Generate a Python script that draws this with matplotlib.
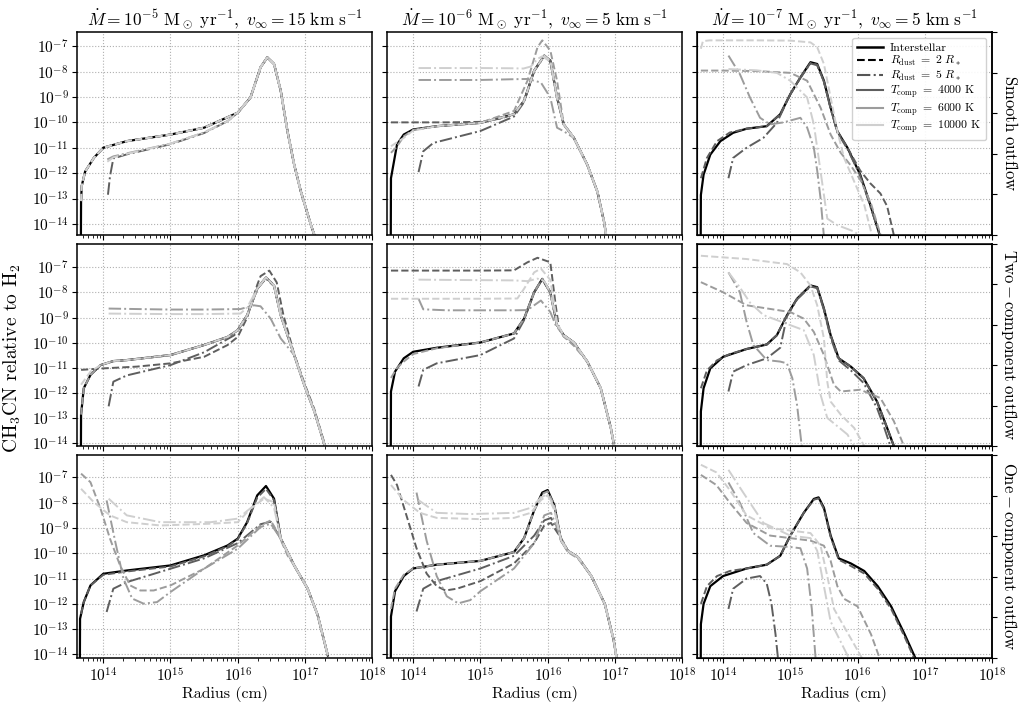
import numpy as np
import matplotlib
matplotlib.use('Agg')
import matplotlib.pyplot as plt
from matplotlib.lines import Line2D
from matplotlib.ticker import LogLocator, NullLocator, FixedLocator

plt.rcParams['font.family'] = 'serif'
plt.rcParams['font.serif'] = ['cmr10', 'DejaVu Serif']
plt.rcParams['mathtext.fontset'] = 'cm'
plt.rcParams['axes.formatter.use_mathtext'] = True

titles = [r'$\dot{M} = 10^{-5}\ \mathrm{M_\odot\ yr^{-1}},\ v_\infty = 15\ \mathrm{km\ s^{-1}}$',
          r'$\dot{M} = 10^{-6}\ \mathrm{M_\odot\ yr^{-1}},\ v_\infty = 5\ \mathrm{km\ s^{-1}}$',
          r'$\dot{M} = 10^{-7}\ \mathrm{M_\odot\ yr^{-1}},\ v_\infty = 5\ \mathrm{km\ s^{-1}}$']
row_labels = [r'$\mathrm{Smooth\ outflow}$',
              r'$\mathrm{Two-component\ outflow}$',
              r'$\mathrm{One-component\ outflow}$']
y_decades = [-14, -13, -12, -11, -10, -9, -8, -7]
x_decades = [14, 15, 16, 17, 18]

# each curve: (log10 radius [cm], log10 abundance)
# smooth outflow, Mdot = 1e-5
smooth_5 = {
    'ism': ([13.665, 13.67, 13.68, 13.73, 13.86, 14.0, 14.35, 15.0, 15.5, 16.0, 16.19, 16.34, 16.44, 16.54, 16.64, 16.74, 16.84, 16.94, 17.09, 17.14],
            [-16, -13.1, -12.5, -11.94, -11.40, -11.0, -10.74, -10.48, -10.21, -9.62, -9.02, -7.83, -7.44, -7.70, -8.76, -10.35, -11.67, -12.73, -14.05, -14.44]),
    't4_r2': ([13.67, 13.68, 13.73, 13.86, 14.0, 14.35, 15.0, 15.5, 16.0, 16.19, 16.34, 16.44, 16.54, 16.64, 16.74, 16.84, 16.94, 17.09, 17.14],
              [-13.1, -12.5, -11.94, -11.40, -11.0, -10.74, -10.48, -10.21, -9.62, -9.02, -7.83, -7.44, -7.70, -8.76, -10.35, -11.67, -12.73, -14.05, -14.44]),
    't4_r5': ([14.07, 14.10, 14.15, 14.35, 15.0, 15.5, 15.85, 16.0, 16.19, 16.34, 16.44, 16.54, 16.64, 16.74, 16.84, 16.94, 17.09, 17.15],
              [-12.85, -12.13, -11.42, -11.26, -10.86, -10.42, -9.95, -9.62, -9.02, -7.83, -7.44, -7.70, -8.76, -10.35, -11.67, -12.73, -14.05, -14.5]),
    't6_r2': ([13.67, 13.68, 13.73, 13.86, 14.0, 14.35, 15.0, 15.5, 16.0, 16.19, 16.34, 16.44, 16.54, 16.64, 16.74, 16.84, 16.94, 17.09, 17.14],
              [-13.1, -12.5, -11.94, -11.40, -11.0, -10.74, -10.48, -10.21, -9.62, -9.02, -7.83, -7.44, -7.70, -8.76, -10.35, -11.67, -12.73, -14.05, -14.44]),
    't6_r5': ([14.06, 14.15, 14.35, 15.0, 15.5, 15.85, 16.0, 16.19, 16.34, 16.44, 16.54, 16.64, 16.74, 16.84, 16.94, 17.09, 17.15],
              [-11.46, -11.34, -11.22, -10.84, -10.40, -9.95, -9.62, -9.02, -7.83, -7.44, -7.70, -8.76, -10.35, -11.67, -12.73, -14.05, -14.5]),
    't10_r2': ([13.67, 13.68, 13.73, 13.86, 14.0, 14.35, 15.0, 15.5, 16.0, 16.19, 16.34, 16.44, 16.54, 16.64, 16.74, 16.84, 16.94, 17.09, 17.14],
               [-13.1, -12.5, -11.94, -11.40, -11.0, -10.74, -10.48, -10.21, -9.62, -9.02, -7.83, -7.44, -7.70, -8.76, -10.35, -11.67, -12.73, -14.05, -14.44]),
    't10_r5': ([14.06, 14.15, 14.35, 15.0, 15.5, 15.85, 16.0, 16.19, 16.34, 16.44, 16.54, 16.64, 16.74, 16.84, 16.94, 17.09, 17.15],
               [-11.55, -11.38, -11.24, -10.84, -10.40, -9.95, -9.62, -9.02, -7.83, -7.44, -7.70, -8.76, -10.35, -11.67, -12.73, -14.05, -14.5]),
}

# smooth outflow, Mdot = 1e-6
smooth_6 = {
    'ism': ([13.665, 13.67, 13.76, 13.86, 14.0, 14.35, 15.0, 15.5, 15.65, 15.80, 15.95, 16.04, 16.14, 16.24, 16.39, 16.59, 16.74, 16.84, 16.87],
            [-16, -12.2, -10.87, -10.48, -10.28, -10.15, -10.02, -9.68, -9.15, -7.96, -7.37, -7.57, -9.02, -10.08, -10.61, -11.67, -12.73, -13.92, -14.44]),
    't4_r2': ([13.67, 14.0, 14.5, 15.0, 15.3, 15.5, 15.65, 15.80, 15.95, 16.04, 16.14, 16.24, 16.39, 16.59, 16.74, 16.84, 16.87],
              [-10.0, -10.0, -10.0, -9.98, -9.85, -9.68, -9.15, -7.96, -7.37, -7.57, -9.02, -10.08, -10.61, -11.67, -12.73, -13.92, -14.44]),
    't4_r5': ([14.08, 14.15, 14.30, 15.0, 15.5, 15.65, 15.80, 15.95, 16.04, 16.14, 16.24, 16.39, 16.59, 16.74, 16.84, 16.87],
              [-11.96, -11.14, -10.81, -10.34, -9.77, -9.2, -7.98, -7.40, -7.6, -9.02, -10.08, -10.61, -11.67, -12.73, -13.92, -14.44]),
    't6_r2': ([13.67, 13.76, 13.86, 14.0, 14.35, 15.0, 15.5, 15.70, 15.85, 15.92, 16.04, 16.14, 16.24, 16.39, 16.59, 16.74, 16.84, 16.87],
              [-11.2, -10.95, -10.55, -10.3, -10.15, -10.02, -9.55, -8.36, -7.04, -6.77, -7.17, -8.36, -10.08, -10.61, -11.67, -12.73, -13.92, -14.44]),
    't6_r5': ([14.08, 14.5, 15.0, 15.5, 15.70, 15.90, 16.04, 16.14, 16.24, 16.39, 16.59, 16.74, 16.84, 16.87],
              [-8.33, -8.33, -8.33, -8.30, -8.29, -8.43, -9.02, -10.21, -10.35, -10.61, -11.67, -12.73, -13.92, -14.44]),
    't10_r2': ([13.67, 13.86, 14.0, 14.35, 15.0, 15.5, 15.65, 15.80, 15.95, 16.04, 16.14, 16.24, 16.39, 16.59, 16.74, 16.84, 16.87],
               [-10.94, -10.61, -10.32, -10.15, -10.02, -9.68, -9.15, -7.96, -7.37, -7.57, -9.02, -10.08, -10.61, -11.67, -12.73, -13.92, -14.44]),
    't10_r5': ([14.08, 14.5, 15.0, 15.5, 15.64, 15.75, 15.85, 15.92, 16.04, 16.14, 16.24, 16.39, 16.59, 16.74, 16.84, 16.87],
               [-7.86, -7.86, -7.86, -7.87, -7.88, -7.8, -7.5, -7.4, -7.6, -9.02, -10.08, -10.61, -11.67, -12.73, -13.92, -14.44]),
}

# smooth outflow, Mdot = 1e-7
smooth_7 = {
    'ism': ([13.665, 13.67, 13.71, 13.81, 13.96, 14.15, 14.35, 14.65, 14.85, 15.0, 15.15, 15.30, 15.40, 15.50, 15.60, 15.70, 15.85, 16.04, 16.19, 16.33],
            [-16, -12.86, -12.06, -11.27, -10.74, -10.41, -10.25, -10.15, -9.68, -8.89, -8.23, -7.63, -7.70, -8.36, -9.42, -10.35, -11.0, -12.06, -13.25, -14.44]),
    't4_r2': ([13.67, 13.76, 13.91, 14.10, 14.35, 14.65, 14.85, 15.0, 15.15, 15.30, 15.40, 15.50, 15.60, 15.70, 15.85, 16.04, 16.19, 16.34, 16.44, 16.54],
              [-12.2, -11.4, -10.74, -10.4, -10.25, -10.15, -9.68, -8.89, -8.23, -7.66, -7.73, -8.4, -9.45, -10.35, -11.0, -11.9, -12.4, -12.8, -13.3, -14.44]),
    't4_r5': ([14.08, 14.15, 14.35, 14.60, 14.80, 15.0, 15.15, 15.30, 15.40, 15.50, 15.60, 15.70, 15.85, 16.04, 16.19, 16.33],
              [-12.2, -11.4, -11.0, -10.61, -10.02, -8.89, -8.25, -7.68, -7.75, -8.4, -9.45, -10.4, -11.05, -12.1, -13.3, -14.44]),
    't6_r2': ([13.67, 14.0, 14.5, 15.0, 15.25, 15.45, 15.60, 15.75, 15.90, 16.05, 16.2, 16.35],
              [-7.96, -7.96, -7.98, -8.05, -8.36, -9.42, -10.48, -11.2, -11.7, -12.3, -13.2, -14.5]),
    't6_r5': ([14.08, 14.25, 14.40, 14.55, 14.70, 14.90, 15.15, 15.25, 15.35, 15.40, 15.45, 15.50],
              [-7.37, -8.10, -9.02, -9.82, -10.08, -10.0, -9.82, -10.2, -11.0, -11.9, -13.0, -14.5]),
    't10_r2': ([13.67, 13.70, 13.8, 14.5, 15.0, 15.30, 15.40, 15.50, 15.60, 15.70, 15.80, 15.95, 16.10, 16.22],
               [-7.1, -6.8, -6.77, -6.77, -6.78, -6.85, -7.04, -7.70, -9.02, -10.35, -11.40, -12.33, -13.25, -14.5]),
    't10_r5': ([14.08, 14.5, 14.8, 15.0, 15.25, 15.35, 15.45, 15.55, 15.70, 15.95, 16.1],
               [-7.9, -7.95, -8.05, -8.36, -9.02, -10.08, -11.93, -13.79, -14.05, -14.3, -14.6]),
}

# two-component outflow, Mdot = 1e-5
two_5 = {
    'ism': ([13.665, 13.67, 13.71, 13.81, 13.96, 14.15, 14.35, 15.0, 15.5, 15.85, 16.0, 16.14, 16.29, 16.42, 16.54, 16.64, 16.84, 16.99, 17.14, 17.29, 17.33],
            [-16, -12.86, -11.81, -11.28, -10.89, -10.73, -10.69, -10.49, -10.09, -9.77, -9.50, -8.91, -7.85, -7.40, -7.72, -8.91, -10.49, -11.68, -12.73, -14.05, -14.3]),
    't4_r2': ([13.67, 14.0, 14.5, 15.0, 15.5, 15.85, 16.0, 16.14, 16.29, 16.34, 16.47, 16.58, 16.68, 16.84, 16.99, 17.14, 17.29, 17.34],
              [-11.08, -11.02, -10.95, -10.82, -10.56, -10.09, -9.77, -9.0, -7.7, -7.35, -7.13, -7.6, -8.9, -10.45, -11.6, -12.65, -14.0, -14.4]),
    't4_r5': ([14.08, 14.15, 14.35, 15.0, 15.5, 15.95, 16.14, 16.29, 16.42, 16.54, 16.64, 16.84, 16.99, 17.14, 17.29, 17.33],
              [-12.53, -11.55, -11.3, -10.89, -10.38, -9.70, -8.91, -7.85, -7.45, -7.75, -8.91, -10.49, -11.68, -12.73, -14.05, -14.3]),
    't6_r2': ([13.67, 13.71, 13.81, 13.96, 14.15, 14.35, 15.0, 15.5, 15.85, 16.0, 16.14, 16.29, 16.42, 16.54, 16.64, 16.84, 16.99, 17.14, 17.29, 17.33],
              [-12.86, -11.81, -11.28, -10.89, -10.73, -10.69, -10.49, -10.09, -9.77, -9.50, -8.91, -7.85, -7.40, -7.72, -8.91, -10.49, -11.68, -12.73, -14.05, -14.3]),
    't6_r5': ([14.08, 14.5, 15.0, 15.5, 16.04, 16.24, 16.34, 16.49, 16.64, 16.84, 16.99, 17.14, 17.29, 17.33],
              [-8.64, -8.66, -8.68, -8.68, -8.66, -8.51, -8.55, -9.04, -9.83, -10.49, -11.68, -12.73, -14.05, -14.3]),
    't10_r2': ([13.67, 13.81, 13.96, 14.15, 14.35, 15.0, 15.5, 15.85, 16.0, 16.14, 16.29, 16.42, 16.54, 16.64, 16.84, 16.99, 17.14, 17.29, 17.35],
               [-11.67, -11.15, -10.89, -10.73, -10.69, -10.49, -10.09, -9.77, -9.50, -8.91, -7.85, -7.40, -7.72, -8.91, -10.49, -11.68, -12.73, -14.05, -14.4]),
    't10_r5': ([14.08, 14.5, 15.0, 15.5, 16.04, 16.14, 16.29, 16.42, 16.54, 16.64, 16.84, 16.99, 17.14, 17.29, 17.33],
               [-8.84, -8.85, -8.86, -8.86, -8.84, -8.6, -7.85, -7.40, -7.72, -8.91, -10.49, -11.68, -12.73, -14.05, -14.3]),
}

# two-component outflow, Mdot = 1e-6
two_6 = {
    'ism': ([13.665, 13.67, 13.73, 13.86, 14.0, 14.35, 15.0, 15.5, 15.65, 15.80, 15.92, 16.04, 16.14, 16.24, 16.39, 16.59, 16.79, 16.94, 16.99],
            [-16, -11.94, -11.15, -10.62, -10.36, -10.20, -9.99, -9.63, -9.04, -7.99, -7.46, -7.99, -9.30, -9.70, -9.99, -10.75, -11.81, -13.39, -14.11]),
    't4_r2': ([13.67, 14.5, 15.0, 15.5, 15.70, 15.85, 16.04, 16.12, 16.17, 16.24, 16.39, 16.59, 16.79, 16.94, 16.99],
              [-7.13, -7.13, -7.13, -7.12, -6.80, -6.62, -6.80, -8.51, -9.43, -9.75, -10.05, -10.75, -11.81, -13.39, -14.11]),
    't4_r5': ([14.08, 14.15, 14.35, 15.0, 15.5, 15.65, 15.80, 15.92, 16.04, 16.14, 16.24, 16.39, 16.59, 16.79, 16.94, 16.99],
              [-11.74, -11.08, -10.82, -10.49, -9.83, -9.1, -8.0, -7.48, -8.0, -9.30, -9.70, -9.99, -10.75, -11.81, -13.39, -14.11]),
    't6_r2': ([13.67, 13.76, 13.86, 14.0, 14.35, 15.0, 15.5, 15.65, 15.80, 15.92, 16.04, 16.14, 16.24, 16.39, 16.59, 16.79, 16.94, 16.99],
              [-11.4, -11.0, -10.75, -10.45, -10.22, -9.99, -9.63, -9.04, -7.99, -7.46, -7.99, -9.30, -9.75, -10.12, -10.75, -11.81, -13.39, -14.11]),
    't6_r5': ([14.08, 14.15, 14.5, 15.0, 15.5, 15.70, 15.90, 16.04, 16.12, 16.24, 16.39, 16.59, 16.79, 16.94, 16.99],
              [-8.25, -8.67, -8.71, -8.71, -8.71, -8.70, -8.32, -8.78, -9.3, -9.72, -9.99, -10.75, -11.81, -13.39, -14.11]),
    't10_r2': ([13.67, 14.08, 14.5, 15.0, 15.55, 15.65, 15.80, 15.90, 16.04, 16.14, 16.24, 16.39, 16.59, 16.79, 16.94, 16.99],
               [-8.25, -8.25, -8.25, -8.25, -8.24, -7.85, -7.2, -7.05, -7.5, -9.2, -9.72, -9.99, -10.75, -11.81, -13.39, -14.11]),
    't10_r5': ([14.08, 14.5, 15.0, 15.5, 15.70, 15.85, 15.95, 16.04, 16.14, 16.24, 16.39, 16.59, 16.79, 16.94, 16.99],
               [-7.49, -7.50, -7.51, -7.52, -7.55, -7.45, -7.55, -8.0, -9.30, -9.70, -9.99, -10.75, -11.81, -13.39, -14.11]),
}

# two-component outflow, Mdot = 1e-7
two_7 = {
    'ism': ([13.665, 13.67, 13.71, 13.81, 14.0, 14.35, 14.65, 14.80, 14.95, 15.10, 15.30, 15.40, 15.50, 15.60, 15.72, 15.90, 16.09, 16.29, 16.44, 16.54],
            [-16, -12.73, -11.81, -11.02, -10.56, -10.25, -10.07, -9.70, -8.91, -8.25, -7.72, -7.79, -8.64, -9.70, -10.62, -10.95, -11.41, -12.34, -13.39, -14.11]),
    't4_r2': ([13.67, 13.76, 13.91, 14.1, 14.35, 14.65, 14.80, 14.95, 15.10, 15.30, 15.40, 15.50, 15.60, 15.72, 15.90, 16.09, 16.29, 16.44, 16.54],
              [-11.81, -11.1, -10.7, -10.45, -10.25, -10.07, -9.70, -8.91, -8.25, -7.74, -7.81, -8.64, -9.70, -10.62, -10.95, -11.41, -12.34, -13.39, -14.11]),
    't4_r5': ([14.08, 14.15, 14.35, 14.65, 14.85, 14.95, 15.10, 15.30, 15.40, 15.50, 15.60, 15.72, 15.90, 16.09, 16.29, 16.40, 16.50],
              [-11.94, -11.15, -10.89, -10.62, -10.2, -8.95, -8.28, -7.76, -7.83, -8.7, -9.8, -10.7, -11.1, -11.6, -12.6, -13.4, -14.2]),
    't6_r2': ([13.67, 14.0, 14.35, 15.0, 15.20, 15.35, 15.50, 15.65, 15.75, 16.04, 16.34, 16.54, 16.69],
              [-7.59, -7.99, -8.51, -8.78, -9.04, -9.57, -10.49, -11.68, -11.94, -11.87, -12.20, -13.12, -14.11]),
    't6_r5': ([14.08, 14.25, 14.35, 14.45, 14.65, 14.85, 14.95, 15.03, 15.10, 15.17],
              [-7.20, -7.99, -9.17, -10.09, -10.69, -10.75, -10.82, -11.41, -12.47, -14.11]),
    't10_r2': ([13.67, 14.35, 14.95, 15.15, 15.30, 15.40, 15.50, 15.55, 15.60, 15.75, 15.95, 16.10],
               [-6.54, -6.67, -6.87, -7.20, -7.72, -8.51, -9.83, -11.55, -12.34, -12.86, -13.39, -14.11]),
    't10_r5': ([14.08, 14.25, 14.4, 14.6, 14.9, 15.2, 15.35, 15.45, 15.55, 15.85, 15.95],
               [-7.2, -7.8, -8.4, -8.9, -9.2, -9.5, -10.49, -12.07, -12.99, -13.65, -14.11]),
}

# one-component outflow, Mdot = 1e-5
one_5 = {
    'ism': ([13.65, 13.655, 13.71, 13.81, 14.0, 14.35, 15.0, 15.5, 15.85, 16.0, 16.14, 16.29, 16.42, 16.54, 16.64, 16.84, 17.04, 17.19, 17.29, 17.34],
            [-16, -12.59, -11.93, -11.27, -10.81, -10.68, -10.48, -10.08, -9.69, -9.42, -8.77, -7.71, -7.34, -7.84, -9.42, -10.48, -11.40, -12.45, -13.51, -14.04]),
    't4_r2': ([13.67, 13.71, 13.81, 14.0, 14.35, 15.0, 15.5, 15.85, 16.0, 16.14, 16.29, 16.42, 16.54, 16.64, 16.84, 17.04, 17.19, 17.29, 17.34],
              [-12.4, -11.93, -11.27, -10.85, -10.72, -10.52, -10.12, -9.72, -9.45, -8.8, -7.8, -7.45, -7.9, -9.42, -10.48, -11.40, -12.45, -13.51, -14.04]),
    't4_r5': ([14.05, 14.15, 14.35, 15.0, 15.5, 16.0, 16.34, 16.49, 16.64, 16.84, 17.04, 17.19, 17.29, 17.34],
              [-12.32, -11.40, -11.14, -10.61, -10.2, -9.6, -8.85, -8.75, -9.42, -10.48, -11.40, -12.45, -13.51, -14.04]),
    't6_r2': ([13.67, 13.81, 13.96, 14.10, 14.25, 14.40, 14.55, 14.75, 15.0, 15.5, 16.0, 16.34, 16.49, 16.59, 16.74, 16.84, 17.04, 17.19, 17.29, 17.34],
              [-6.85, -7.19, -8.24, -9.42, -10.48, -11.27, -11.47, -11.47, -11.27, -10.61, -9.69, -8.90, -8.70, -9.16, -10.08, -10.48, -11.40, -12.45, -13.51, -14.04]),
    't6_r5': ([14.05, 14.18, 14.30, 14.43, 14.60, 14.80, 15.0, 15.5, 16.0, 16.34, 16.49, 16.64, 16.84, 17.04, 17.19, 17.29, 17.34],
              [-7.91, -9.56, -11.0, -11.79, -11.99, -11.93, -11.53, -10.61, -9.82, -8.96, -8.83, -9.42, -10.48, -11.40, -12.45, -13.51, -14.04]),
    't10_r2': ([13.67, 13.86, 14.10, 14.35, 14.85, 15.60, 16.0, 16.19, 16.39, 16.54, 16.64, 16.84, 17.04, 17.19, 17.29, 17.34],
               [-7.45, -7.98, -8.50, -8.77, -8.90, -8.83, -8.77, -8.24, -7.84, -7.98, -9.42, -10.48, -11.40, -12.45, -13.51, -14.04]),
    't10_r5': ([14.08, 14.35, 14.85, 15.6, 16.0, 16.24, 16.39, 16.54, 16.64, 16.84, 17.04, 17.19, 17.29, 17.34],
               [-7.84, -8.50, -8.77, -8.77, -8.63, -8.11, -7.78, -8.2, -9.42, -10.48, -11.40, -12.45, -13.51, -14.04]),
}

# one-component outflow, Mdot = 1e-6
one_6 = {
    'ism': ([13.665, 13.67, 13.73, 13.86, 14.0, 14.35, 15.0, 15.5, 15.65, 15.80, 15.92, 16.0, 16.1, 16.2, 16.3, 16.45, 16.65, 16.85, 16.98, 17.03],
            [-16, -12.5, -11.5, -10.9, -10.6, -10.45, -10.3, -9.95, -9.4, -8.3, -7.6, -7.5, -8.1, -9.5, -9.9, -10.15, -10.9, -12.0, -13.4, -14.2]),
    't4_r2': ([13.67, 13.76, 13.9, 14.05, 14.2, 14.35, 14.48, 14.65, 15.0, 15.5, 15.8, 15.95, 16.05, 16.2, 16.3, 16.45, 16.65, 16.85, 16.98, 17.03],
              [-6.9, -7.3, -8.5, -9.8, -10.8, -11.3, -11.47, -11.4, -11.1, -10.4, -9.6, -8.9, -8.8, -9.4, -9.9, -10.15, -10.9, -12.0, -13.4, -14.2]),
    't4_r5': ([14.05, 14.15, 14.35, 15.0, 15.5, 15.8, 15.95, 16.05, 16.2, 16.3, 16.45, 16.65, 16.85, 16.98, 17.03],
              [-12.3, -11.4, -11.1, -10.6, -10.1, -9.3, -8.7, -8.6, -9.4, -9.9, -10.15, -10.9, -12.0, -13.4, -14.2]),
    't6_r2': ([13.67, 13.73, 13.86, 14.0, 14.35, 15.0, 15.5, 15.65, 15.80, 15.92, 16.0, 16.1, 16.2, 16.3, 16.45, 16.65, 16.85, 16.98, 17.03],
              [-12.2, -11.4, -10.85, -10.6, -10.45, -10.3, -9.95, -9.4, -8.3, -7.65, -7.55, -8.1, -9.5, -9.95, -10.2, -10.9, -12.0, -13.4, -14.2]),
    't6_r5': ([14.05, 14.2, 14.35, 14.5, 14.67, 14.85, 15.0, 15.5, 15.8, 15.95, 16.05, 16.2, 16.3, 16.45, 16.65, 16.85, 16.98, 17.03],
              [-7.6, -9.5, -10.9, -11.7, -11.98, -11.85, -11.5, -10.6, -9.6, -8.5, -8.4, -9.4, -9.9, -10.15, -10.9, -12.0, -13.4, -14.2]),
    't10_r2': ([13.67, 13.86, 14.1, 14.35, 15.0, 15.5, 15.75, 15.9, 16.0, 16.1, 16.2, 16.3, 16.45, 16.65, 16.85, 16.98, 17.03],
               [-7.3, -7.9, -8.4, -8.6, -8.65, -8.6, -8.4, -7.9, -7.7, -8.3, -9.5, -9.9, -10.15, -10.9, -12.0, -13.4, -14.2]),
    't10_r5': ([14.08, 14.35, 14.85, 15.5, 15.75, 15.9, 16.0, 16.1, 16.2, 16.3, 16.45, 16.65, 16.85, 16.98, 17.03],
               [-7.9, -8.4, -8.45, -8.4, -8.2, -7.8, -7.65, -8.2, -9.5, -9.9, -10.15, -10.9, -12.0, -13.4, -14.2]),
}

# one-component outflow, Mdot = 1e-7
one_7 = {
    'ism': ([13.665, 13.67, 13.71, 13.81, 14.0, 14.35, 14.65, 14.85, 15.0, 15.2, 15.35, 15.42, 15.5, 15.6, 15.72, 15.9, 16.1, 16.3, 16.5, 16.7, 16.87],
            [-16, -12.8, -12.0, -11.3, -10.9, -10.6, -10.45, -10.1, -9.3, -8.4, -7.85, -7.79, -8.2, -9.3, -10.2, -10.4, -10.7, -11.3, -12.1, -13.2, -14.2]),
    't4_r2': ([13.67, 13.76, 13.91, 14.1, 14.35, 14.65, 14.85, 15.0, 15.2, 15.35, 15.42, 15.5, 15.6, 15.72, 15.9, 16.1, 16.3, 16.5, 16.7, 16.85],
              [-12.0, -11.3, -10.9, -10.7, -10.6, -10.45, -10.1, -9.3, -8.4, -7.88, -7.83, -8.25, -9.35, -10.25, -10.5, -10.8, -11.4, -12.2, -13.3, -14.2]),
    't4_r5': ([14.08, 14.15, 14.35, 14.55, 14.65, 14.72, 14.78, 14.83],
              [-12.2, -11.4, -11.0, -10.9, -11.2, -12.0, -13.2, -14.5]),
    't6_r2': ([13.67, 13.9, 14.1, 14.35, 14.7, 15.0, 15.3, 15.5, 15.6, 15.7, 15.8, 16.0, 16.2, 16.35],
              [-6.9, -7.3, -8.0, -8.8, -9.3, -9.4, -9.5, -9.7, -10.3, -11.3, -11.8, -12.1, -13.2, -14.3]),
    't6_r5': ([14.08, 14.25, 14.45, 14.7, 15.0, 15.15, 15.25, 15.32, 15.38],
              [-7.2, -8.0, -9.2, -9.7, -9.75, -9.8, -10.6, -12.2, -14.3]),
    't10_r2': ([13.67, 13.9, 14.1, 14.35, 14.7, 15.0, 15.3, 15.45, 15.55, 15.65, 15.8, 15.95, 16.1],
               [-6.5, -6.8, -7.5, -8.5, -9.0, -9.1, -9.2, -9.7, -10.9, -12.2, -12.9, -13.6, -14.3]),
    't10_r5': ([14.08, 14.3, 14.6, 15.0, 15.3, 15.4, 15.5, 15.6, 15.75, 15.9],
               [-6.7, -7.6, -8.8, -9.3, -9.4, -9.9, -11.3, -12.7, -13.5, -14.3]),
}

panels = [[smooth_5, smooth_6, smooth_7],
          [two_5, two_6, two_7],
          [one_5, one_6, one_7]]
row_ylims = [(-14.42, -6.44), (-14.12, -6.06), (-14.14, -6.13)]

c4, c6, c10 = '#5e5e5e', '#9c9c9c', '#cfcfcf'
styles = {'ism': ('black', '-'),
          't4_r2': (c4, '--'), 't4_r5': (c4, '-.'),
          't6_r2': (c6, '--'), 't6_r5': (c6, '-.'),
          't10_r2': (c10, '--'), 't10_r5': (c10, '-.')}
order = ['ism', 't4_r2', 't4_r5', 't6_r2', 't6_r5', 't10_r2', 't10_r5']

fig, axes = plt.subplots(3, 3, figsize=(10.23, 7.03), dpi=100, sharex=True, sharey='row')
fig.subplots_adjust(left=0.0753, right=0.9697, top=0.9545, bottom=0.064,
                    wspace=0.05, hspace=0.045)

for i in range(3):
    for j in range(3):
        ax = axes[i, j]
        for key in order:
            r, x = panels[i][j][key]
            color, ls = styles[key]
            lw = 1.6 if key == 'ism' else 1.4
            ax.plot(np.power(10.0, r), np.power(10.0, x), color=color, ls=ls, lw=lw)
        ax.set_xscale('log')
        ax.set_yscale('log')
        ax.set_xlim(10**13.61, 1e18)
        lo, hi = row_ylims[i]
        ax.set_ylim(10**lo, 10**hi)
        ax.yaxis.set_major_locator(FixedLocator([10.0**d for d in y_decades]))
        ax.yaxis.set_minor_locator(NullLocator())
        ax.xaxis.set_major_locator(FixedLocator([10.0**d for d in x_decades]))
        ax.xaxis.set_minor_locator(LogLocator(base=10, subs=np.arange(2, 10), numticks=20))
        ax.grid(True, which='major', ls=':', color='#b0b0b0', lw=0.8)
        ax.tick_params(labelsize=11, pad=2.5)
        for s in ax.spines.values():
            s.set_linewidth(1.1)
        if i == 0:
            ax.set_title(titles[j], fontsize=12.5, pad=5)
        if i == 2:
            ax.set_xlabel('Radius (cm)', fontsize=11.5, labelpad=1)
        if j == 2:
            tw = ax.twinx()
            tw.tick_params(labelright=False)
            tw.set_ylabel(row_labels[i], rotation=270, fontsize=12, labelpad=16)
            tw.spines['right'].set_linewidth(1.1)

fig.text(0.012, 0.49, r'CH$_3$CN relative to H$_2$', rotation=90,
         va='center', ha='center', fontsize=14)

handles = [Line2D([], [], color='black', ls='-', lw=1.8),
           Line2D([], [], color='black', ls='--', lw=1.5),
           Line2D([], [], color='#555555', ls='-.', lw=1.5),
           Line2D([], [], color=c4, ls='-', lw=1.5),
           Line2D([], [], color=c6, ls='-', lw=1.5),
           Line2D([], [], color=c10, ls='-', lw=1.5)]
labels = ['Interstellar',
          r'$R_{\rm dust}\ =\ 2\ R_*$',
          r'$R_{\rm dust}\ =\ 5\ R_*$',
          r'$T_{\rm comp}\ =\ 4000$ K',
          r'$T_{\rm comp}\ =\ 6000$ K',
          r'$T_{\rm comp}\ =\ 10000$ K']
axes[0, 2].legend(handles, labels, loc='upper right', fontsize=8.5,
                  handlelength=2.2, labelspacing=0.08, borderpad=0.4,
                  handletextpad=0.6, edgecolor='#cccccc', framealpha=0.9)

fig.savefig('out.png', dpi=100)
